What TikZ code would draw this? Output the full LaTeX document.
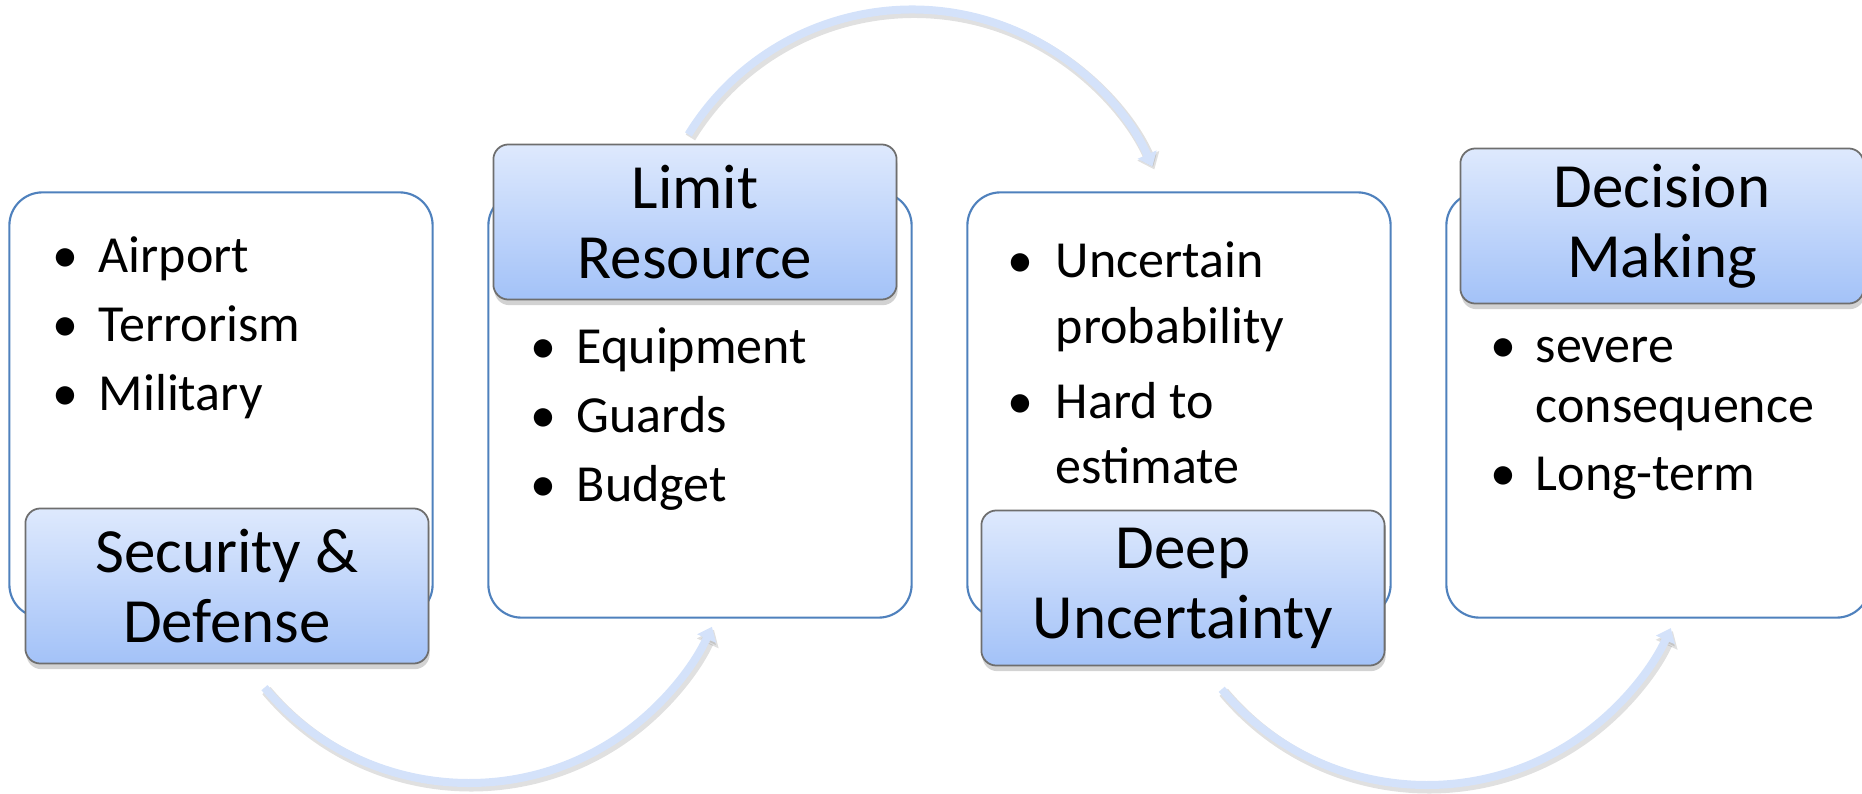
\documentclass[tikz,border=0pt]{standalone}
\usepackage{fontspec}
\setmainfont{Carlito}
\usetikzlibrary{arrows.meta,shadows}

\definecolor{panelblue}{HTML}{4F81BD}
\definecolor{hdtop}{RGB}{222,233,253}
\definecolor{hdbot}{RGB}{163,194,248}
\definecolor{hdline}{RGB}{110,110,110}
\definecolor{flowblue}{RGB}{212,226,250}

\newcommand{\bodyfont}{\fontsize{14.8pt}{0.65cm}\selectfont}
\newcommand{\headfont}{\fontsize{17.9pt}{0.70cm}\selectfont}

\begin{document}
\begin{tikzpicture}[x=0.01cm,y=0.01cm,
		panel/.style={draw=panelblue,line width=0.6pt,fill=white,rounded corners=0.33cm,minimum width=4.23cm,minimum height=4.25cm},
		head/.style={draw=hdline,line width=0.5pt,top color=hdtop,bottom color=hdbot,rounded corners=0.15cm,
			minimum width=4.03cm,minimum height=1.55cm,align=center,font=\headfont,
			drop shadow={shadow xshift=0.3pt,shadow yshift=-1.6pt,opacity=0.35}},
		items/.style={anchor=base west,inner sep=0pt,font=\bodyfont},
		flow/.style={draw=flowblue,line width=0.08cm,-{Triangle[length=0.13cm,width=0.2cm]}},
		flowshadow/.style={draw=black,opacity=0.12,line width=0.11cm,-{Triangle[length=0.15cm,width=0.23cm]}}
		]
	\useasboundingbox (0,0) rectangle (1862,793);

	% Panels
	% ----------------------
	\node[panel] (p1) at (221,388) {};
	\node[panel] (p2) at (700,388) {};
	\node[panel] (p3) at (1179,388) {};
	\node[panel] (p4) at (1658,388) {};

	% Headers
	% ----------------------
	\node[head] (hd1) at (227,207) {Security \&\\Defense};
	\node[head] (hd2) at (695,571) {Limit\\Resource};
	\node[head] (hd3) at (1183,205) {Deep\\Uncertainty};
	\node[head] (hd4) at (1662,567) {Decision\\Making};

	% Bullet lists
	% ----------------------
	\node[items] (l1) at (52,521) {\begin{tabular}[t]{@{}p{0.46cm}@{}l@{}}
		\textbullet & Airport\\[0.04cm]
		\textbullet & Terrorism\\[0.04cm]
		\textbullet & Military
	\end{tabular}};
	\node[items] (l2) at (530,430) {\begin{tabular}[t]{@{}p{0.46cm}@{}l@{}}
		\textbullet & Equipment\\[0.04cm]
		\textbullet & Guards\\[0.04cm]
		\textbullet & Budget
	\end{tabular}};
	\node[items] (l3) at (1007,515) {\begin{tabular}[t]{@{}p{0.48cm}@{}l@{}}
		\textbullet & Uncertain\\
		& probability\\[0.1cm]
		\textbullet & Hard to\\
		& estimate
	\end{tabular}};
	\node[items] (l4) at (1490,431) {\begin{tabular}[t]{@{}p{0.45cm}@{}l@{}}
		\textbullet & severe\\[-0.05cm]
		& consequence\\[0.03cm]
		\textbullet & Long-term
	\end{tabular}};

	% Curved arrows between the panels
	% ----------------------
	\coordinate (o1) at (469,277);
	\coordinate (o2) at (912,521);
	\coordinate (o3) at (1427,276);

	\draw[flowshadow] ([shift={(2,-3)}]o1) ++(220:267) arc[start angle=220,end angle=335.5,radius=267];
	\draw[flow] (o1) ++(220:267) arc[start angle=220,end angle=335.5,radius=267];

	\draw[flowshadow] ([shift={(2,-3)}]o2) ++(148.4:262.5) arc[start angle=148.4,end angle=23.7,radius=262.5];
	\draw[flow] (o2) ++(148.4:262.5) arc[start angle=148.4,end angle=23.7,radius=262.5];

	\draw[flowshadow] ([shift={(2,-3)}]o3) ++(220:268) arc[start angle=220,end angle=335.5,radius=268];
	\draw[flow] (o3) ++(220:268) arc[start angle=220,end angle=335.5,radius=268];

\end{tikzpicture}
\end{document}
